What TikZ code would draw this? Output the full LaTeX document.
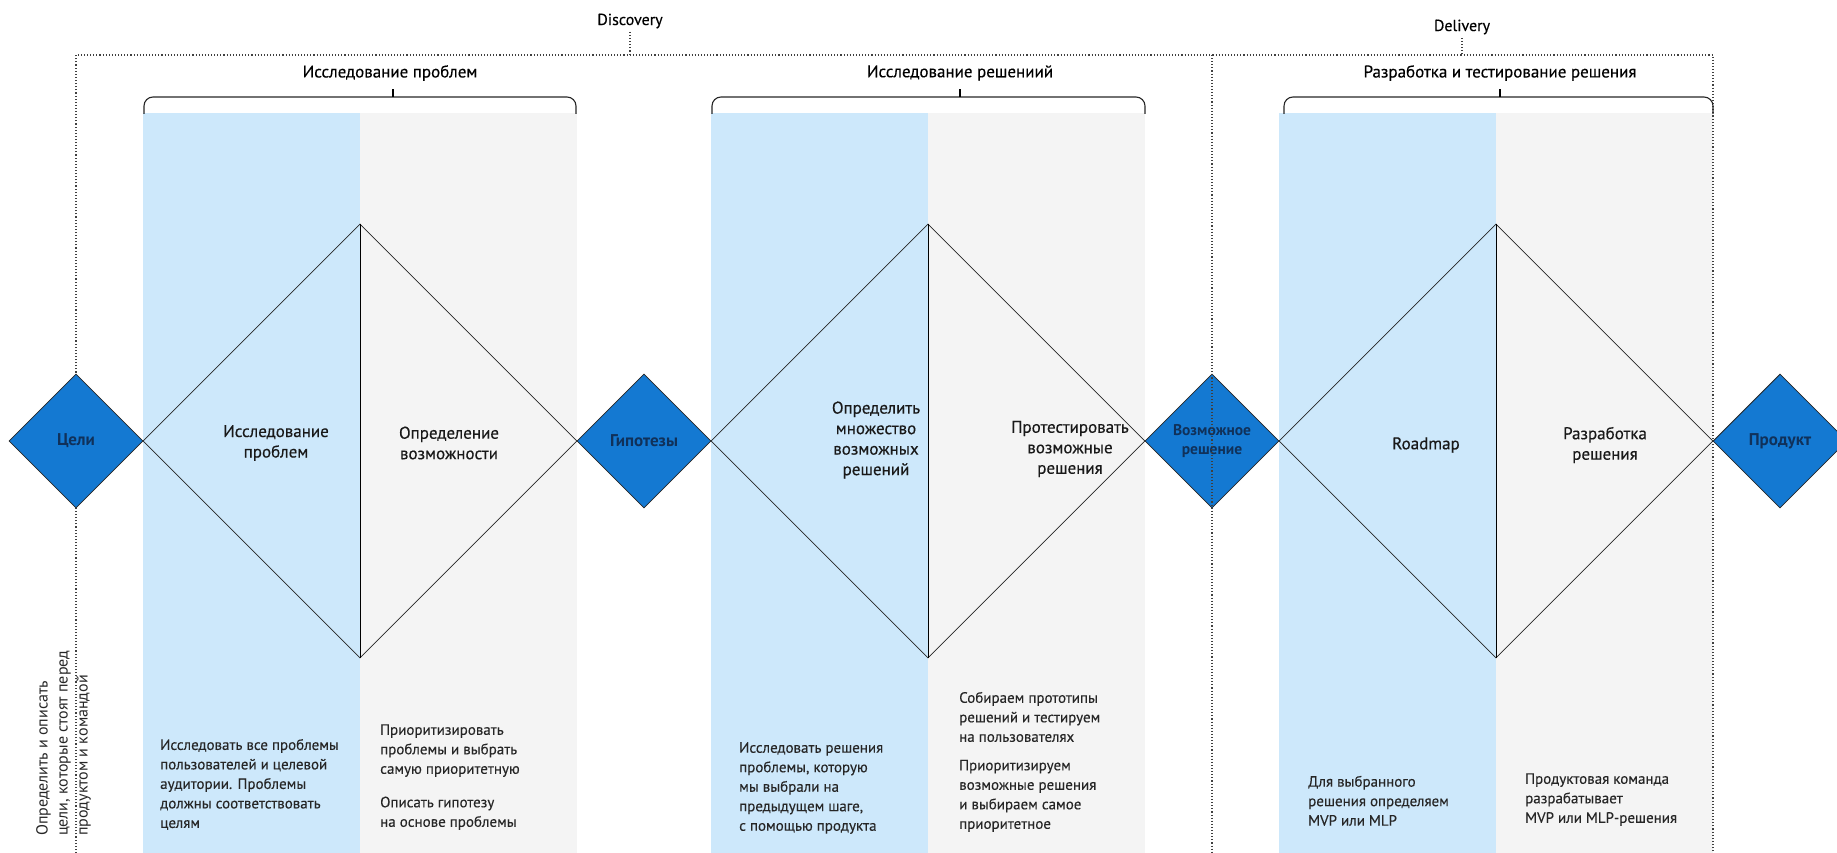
\documentclass[tikz,border=0pt]{standalone}
\usepackage{fontspec}
\setmainfont{PT Sans}
\usepackage{tikz}
\usetikzlibrary{shapes.geometric}

\definecolor{colblue}{HTML}{CDE8FB}
\definecolor{colgray}{HTML}{F4F4F4}
\definecolor{diablue}{HTML}{1479D2}
\definecolor{dianavy}{HTML}{10315A}
\definecolor{txtgray}{HTML}{262626}

\begin{document}
\begin{tikzpicture}[x=1pt, y=-1pt,
  goal/.style={diamond, aspect=1, draw=black!85, line width=0.8pt, fill=diablue,
    minimum width=134pt, minimum height=134pt, inner sep=0pt},
  goaltext/.style={text=dianavy, align=center, inner sep=0pt,
    font=\fontsize{17}{19}\selectfont\bfseries},
  phase/.style={diamond, aspect=1, draw=black!85, line width=0.8pt,
    minimum width=434pt, minimum height=434pt, inner sep=0pt},
  stage/.style={font=\fontsize{17}{20.5}\selectfont\addfontfeature{FakeBold=0.4},
    align=center, text=black!90},
  note/.style={font=\fontsize{15}{19.5}\selectfont\addfontfeature{FakeBold=0.2},
    align=left, text=txtgray, inner sep=0pt},
  heading/.style={font=\fontsize{17}{20}\selectfont\addfontfeature{FakeBold=0.3}, text=black},
  dotline/.style={dotted, line width=1.1pt, black!75},
  bracket/.style={line width=1.1pt, black!85, rounded corners=9pt}]

  \useasboundingbox (0,0) rectangle (1837,853);

  % columns
  \foreach \x in {143,711,1279}
    \fill[colblue] (\x,113) rectangle ++(217,740);
  \foreach \x in {360,928,1496}
    \fill[colgray] (\x,113) rectangle ++(217,740);

  % discovery / delivery frame
  \node[heading, font=\fontsize{16}{19}\selectfont\addfontfeature{FakeBold=0.3}] (disc) at (630,21) {Discovery};
  \node[heading, font=\fontsize{16}{19}\selectfont\addfontfeature{FakeBold=0.3}] (deli) at (1462,27) {Delivery};
  \coordinate (disctop) at (630,55);
  \coordinate (delitop) at (1462,55);
  \draw[dotline] (76,853) -- (76,55) -- (1713,55) -- (1713,853);
  \draw[dotline] (disc.south) -- (disctop);
  \draw[dotline] (deli.south) -- (delitop);

  % brackets
  \node[heading] (probtitle) at (390,73) {Исследование проблем};
  \node[heading] (soltitle) at (960,73) {Исследование решениий};
  \node[heading] (devtitle) at (1500,73) {Разработка и тестирование решения};
  \draw[bracket] (144,114) -- (144,97) -- (576,97) -- (576,114);
  \draw[bracket] (712,114) -- (712,97) -- (1145,97) -- (1145,114);
  \draw[bracket] (1284,114) -- (1284,97) -- (1713,97) -- (1713,114);
  \draw[line width=1.1pt] (393,97) -- (393,89);
  \draw[line width=1.1pt] (960,97) -- (960,89);
  \draw[line width=1.1pt] (1500,97) -- (1500,89);

  % big diamonds
  \node[phase] (ph1) at (360,441) {};
  \node[phase] (ph2) at (928,441) {};
  \node[phase] (ph3) at (1496,441) {};
  \draw[line width=0.8pt] (ph1.north) -- (ph1.south);
  \draw[line width=0.8pt] (ph2.north) -- (ph2.south);
  \draw[line width=0.8pt] (ph3.north) -- (ph3.south);

  \node[stage] (s1) at (276,443) {Исследование\\проблем};
  \node[stage] (s2) at (449,443) {Определение\\возможности};
  \node[stage] (s3) at (876,440) {Определить\\множество\\возможных\\решений};
  \node[stage] (s4) at (1070,449) {Протестировать\\возможные\\решения};
  \node[stage] (s5) at (1426,445) {Roadmap};
  \node[stage] (s6) at (1605,445) {Разработка\\решения};

  % small diamonds
  \node[goal, label={[goaltext]center:Цели}] (celi) at (76,441) {};
  \node[goal, label={[goaltext]center:Гипотезы}] (gip) at (644,441) {};
  \node[goal, label={[goaltext, font=\fontsize{15.5}{19}\selectfont\bfseries]center:Возможное\\решение}] (vozm) at (1212,441) {};
  \node[goal, label={[goaltext]center:Продукт}] (prod) at (1780,441) {};
  \draw[dotline] (1212,55) -- (1212,853);

  % notes
  \node[note, font=\fontsize{16}{20}\selectfont, rotate=90, anchor=north west] (goalnote) at (36,836)
    {Определить и описать\\цели, которые стоят перед\\продуктом и командой};
  \node[note, anchor=south west] (n1) at (160,830)
    {Исследовать все проблемы\\пользователей и целевой\\аудитории. Проблемы\\должны соответствовать\\целям};
  \node[note, anchor=south west] (n2) at (380,830)
    {Приоритизировать\\проблемы и выбрать\\самую приоритетную\\[14pt]Описать гипотезу\\на основе проблемы};
  \node[note, anchor=south west] (n3) at (739,834)
    {Исследовать решения\\проблемы, которую\\мы выбрали на\\предыдущем шаге,\\с помощью продукта};
  \node[note, anchor=south west] (n4) at (959,832)
    {Собираем прототипы\\решений и тестируем\\на пользователях\\[9pt]Приоритизируем\\возможные решения\\и выбираем самое\\приоритетное};
  \node[note, anchor=south west] (n5) at (1308,826)
    {Для выбранного\\решения определяем\\MVP или MLP};
  \node[note, anchor=south west] (n6) at (1525,826)
    {Продуктовая команда\\разрабатывает\\MVP или MLP-решения};
\end{tikzpicture}
\end{document}
